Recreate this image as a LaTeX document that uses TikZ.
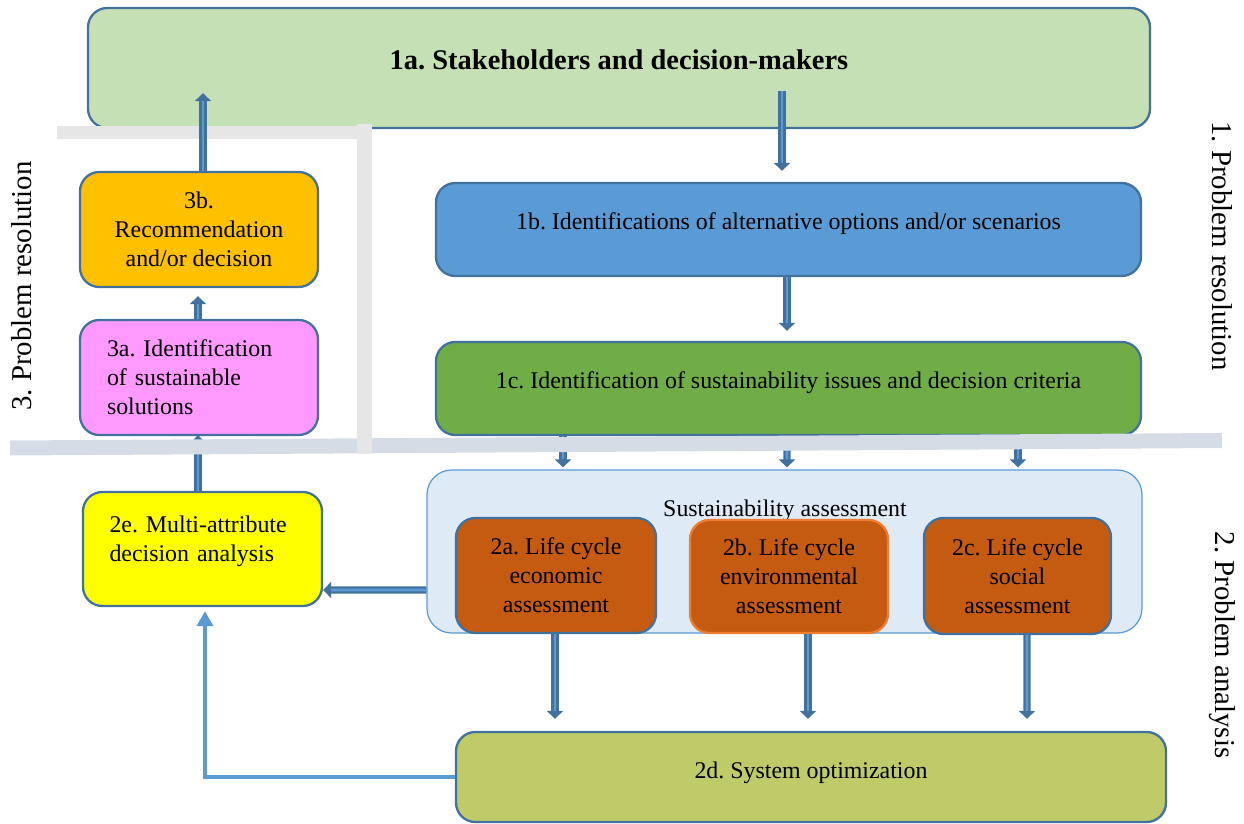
\documentclass[tikz,border=0pt]{standalone}
\usepackage{fontspec}
\setmainfont{Liberation Serif}
\usepackage{tikz}
\usetikzlibrary{calc,arrows.meta}
\frenchspacing
\newcommand{\pix}{0.02cm}
\newcommand{\boxline}{1.3pt}
\newcommand{\bodyfont}{\fontsize{13.6}{16.5}\selectfont}
\newcommand{\titlefont}{\fontsize{16.2}{19}\selectfont\bfseries}
\newcommand{\sidefont}{\fontsize{16.4}{19}\selectfont}
\definecolor{edgeblue}{HTML}{41719C}
\definecolor{arrowblue}{HTML}{5B9BD5}
\definecolor{greenA}{HTML}{C5E0B4}
\definecolor{blueB}{HTML}{5B9BD5}
\definecolor{greenC}{HTML}{70AD47}
\definecolor{orangeB}{HTML}{FFC000}
\definecolor{pinkA}{HTML}{FF99FF}
\definecolor{yellowE}{HTML}{FFFF00}
\definecolor{assessbg}{HTML}{DEEBF7}
\definecolor{rustbox}{HTML}{C55A11}
\definecolor{orangeline}{HTML}{ED7D31}
\definecolor{olivebox}{HTML}{BFCB68}
\definecolor{sepgrey}{HTML}{E7E6E6}
\definecolor{sepblue}{HTML}{D6DCE5}
\tikzset{
  box/.style={draw=edgeblue, line width=\boxline, rounded corners=11pt, align=center, inner sep=0pt, font=\bodyfont},
  blockarrow/.style={draw=edgeblue, line width=4pt, -{Triangle[length=4.5pt,width=9pt]},
    postaction={draw=arrowblue, line width=1.6pt, shorten >=4.5pt, -}},
  feedback/.style={draw=arrowblue, line width=2.8pt, -{Triangle[length=8.5pt,width=9pt]}},
  sidelabel/.style={font=\sidefont, inner sep=0pt}
}

\begin{document}
\begin{tikzpicture}[x=\pix, y=-\pix]
\useasboundingbox (0,0) rectangle (1244,824);
%1
\node[box, fill=greenA, font=\titlefont] (1a) at (619, 68) [minimum width=1062*\pix, minimum height=120*\pix, text depth=16*\pix] {1a. Stakeholders and decision-makers};
\node[box, fill=blueB] (1b) at (788.5, 229.5) [minimum width=705*\pix, minimum height=93*\pix, text depth=16*\pix] {1b. Identifications of alternative options and/or scenarios};
\node[box, fill=greenC] (1c) at (788.5, 388.5) [minimum width=705*\pix, minimum height=93*\pix, text depth=16*\pix] {1c. Identification of sustainability issues and decision criteria};
%3
\node[box, fill=orangeB] (3b) at (199, 229.5) [minimum width=238*\pix, minimum height=115*\pix] {3b.\\Recommendation\\and/or decision};
\node[box, fill=pinkA, align=left, text width=184*\pix] (3a) at (199, 377.5) [minimum width=238*\pix, minimum height=115*\pix] {3a. Identification\\of sustainable\\solutions};
%2
\node[box, fill=yellowE, align=left, text width=186*\pix] (2e) at (202.5, 549) [minimum width=239*\pix, minimum height=114*\pix, text depth=50*\pix] {2e. Multi-attribute\\decision analysis};
\node[box, fill=assessbg, draw=arrowblue, line width=0.7pt, rounded corners=14pt] (sa) at (784.5, 551.5) [minimum width=715*\pix, minimum height=163*\pix] {};
\node[font=\bodyfont, inner sep=0pt] (satitle) at (785, 511) {Sustainability assessment};
\node[box, fill=rustbox] (2a) at (556, 575.5) [minimum width=200*\pix, minimum height=115*\pix] {2a. Life cycle\\economic\\assessment};
\node[box, fill=rustbox, draw=orangeline] (2b) at (789, 576.5) [minimum width=198*\pix, minimum height=113*\pix] {2b. Life cycle\\environmental\\assessment};
\node[box, fill=rustbox] (2c) at (1017.5, 576) [minimum width=187*\pix, minimum height=116*\pix] {2c. Life cycle\\social\\assessment};
\node[box, fill=olivebox] (2d) at (811, 777) [minimum width=710*\pix, minimum height=90*\pix, text depth=14*\pix] {2d. System optimization};
%side labels
\node[sidelabel, rotate=-90] (lbl1) at (1222, 246) {1. Problem resolution};
\node[sidelabel, rotate=-90] (lbl2) at (1222, 645) {2. Problem analysis};
\node[sidelabel, rotate=90] (lbl3) at (22, 286) {3. Problem resolution};
%arrows under the bar
\draw[blockarrow] ($(2e.north)+(-4.5,0)$) -- ($(3a.south)+(-1,-1)$);
\draw[blockarrow] ($(1c.south)+(-225.5,0)$) -- ($(sa.north)+(-221.5,-2)$);
\draw[blockarrow] ($(1c.south)+(-1.5,0)$) -- ($(sa.north)+(2.5,-2)$);
\draw[blockarrow] ($(1c.south)+(229.5,0)$) -- ($(sa.north)+(233.5,-2)$);
%bars
\draw[sepblue, line width=15*\pix] (10, 448) -- (1222, 440.5);
\draw[sepgrey, line width=13*\pix] (57, 133) -- (365, 133);
\draw[sepgrey, line width=15*\pix] (364.5, 124) -- (364.5, 454);
%arrows
\draw[blockarrow] ($(3b.north)+(4,0)$) -- ($(1a.south)+(-416,-36)$);
\draw[blockarrow] ($(3a.north)+(-1,0)$) -- ($(3b.south)+(-1,8)$);
\draw[blockarrow] ($(1a.south)+(163,-38)$) -- ($(1b.north)+(-6.5,-11)$);
\draw[blockarrow] ($(1b.south)+(-1.5,0)$) -- ($(1c.north)+(-1.5,-10)$);
\draw[blockarrow] ($(sa.west)+(0,38.5)$) -- ($(2e.east)+(0,41)$);
\draw[blockarrow] ($(2a.south)+(-1,0)$) -- ($(2d.north)+(-256,-12)$);
\draw[blockarrow] ($(2b.south)+(19,0)$) -- ($(2d.north)+(-3,-12)$);
\draw[blockarrow] ($(2c.south)+(9.5,0)$) -- ($(2d.north)+(216,-12)$);
\draw[feedback] (2d.west) -| ($(2e.south)+(2.5,4)$);
\end{tikzpicture}
\end{document}
